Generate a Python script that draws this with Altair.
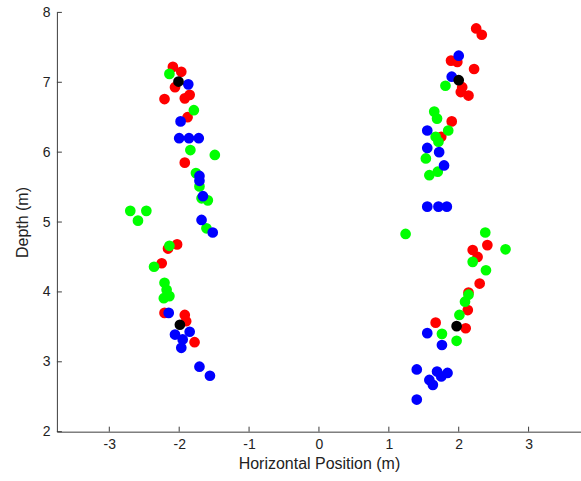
import altair as alt
import pandas as pd

# Sensor positions (horizontal offset, depth) grouped by marker colour
red_x = [-2.09, -1.97, -2.06, -1.85, -1.92, -2.21, -1.88, -1.92, -2.03, -2.16, -2.25,
         -2.21, -1.92, -1.90, -1.78,
         2.25, 2.33, 1.89, 1.98, 2.22, 2.05, 2.03, 2.14, 1.90, 1.75,
         2.41, 2.20, 2.27, 2.30, 2.14, 2.13, 2.10, 1.67]
red_y = [7.22, 7.15, 6.93, 6.82, 6.77, 6.76, 6.50, 5.85, 4.68, 4.62, 4.41,
         3.70, 3.67, 3.58, 3.28,
         7.77, 7.68, 7.31, 7.29, 7.19, 6.93, 6.86, 6.81, 6.44, 6.22,
         4.67, 4.60, 4.50, 4.12, 3.99, 3.74, 3.48, 3.56]

green_x = [-2.14, -1.79, -1.84, -1.49, -1.76, -1.71, -1.68, -1.59, -2.70, -2.47, -2.59,
           -1.61, -2.14, -2.36, -2.21, -2.18, -2.14, -2.22,
           1.81, 1.65, 1.69, 1.85, 1.67, 1.71, 1.53, 1.70, 1.58,
           1.24, 2.38, 2.67, 2.20, 2.39, 2.14, 2.09, 2.01, 1.76, 1.97]
green_y = [7.12, 6.60, 6.03, 5.96, 5.70, 5.51, 5.34, 5.31, 5.16, 5.16, 5.02,
           4.91, 4.66, 4.36, 4.13, 4.03, 3.94, 3.91,
           6.95, 6.58, 6.48, 6.31, 6.22, 6.15, 5.91, 5.72, 5.67,
           4.83, 4.85, 4.61, 4.43, 4.31, 3.96, 3.86, 3.67, 3.40, 3.30]

blue_x = [-1.87, -1.98, -2.00, -1.86, -1.72, -1.71, -1.71, -1.66, -1.68, -1.52,
          -2.15, -1.85, -2.06, -1.95, -1.97, -1.71, -1.56,
          2.00, 1.90, 1.55, 1.55, 1.72, 1.79, 1.55, 1.71, 1.83,
          1.55, 1.76, 1.40, 1.69, 1.84, 1.58, 1.63, 1.75, 1.40]
blue_y = [6.97, 6.44, 6.20, 6.20, 6.20, 5.66, 5.59, 5.37, 5.03, 4.85,
          3.70, 3.43, 3.39, 3.32, 3.20, 2.93, 2.80,
          7.38, 7.08, 6.31, 6.06, 6.00, 5.81, 5.22, 5.22, 5.22,
          3.41, 3.24, 2.89, 2.86, 2.84, 2.74, 2.67, 2.79, 2.46]

black_x = [-2.01, -1.99, 2.00, 1.97]
black_y = [7.01, 3.53, 7.03, 3.51]

x_ticks = [-3, -2, -1, 0, 1, 2, 3]
y_ticks = [2, 3, 4, 5, 6, 7, 8]

W, H = 525, 420
FONT = "Liberation Sans"
AXIS_COLOR = "#3c3c3c"
TEXT_COLOR = "#222222"

groups = [("red", red_x, red_y, "#ff0000"),
          ("green", green_x, green_y, "#00ff00"),
          ("blue", blue_x, blue_y, "#0000ff"),
          ("black", black_x, black_y, "#000000")]

xs = alt.Scale(domain=[-3.75, 3.75], nice=False, zero=False)
ys = alt.Scale(domain=[2, 8], nice=False, zero=False)

# plain ASCII hyphen for negative tick labels
label_expr = "'' + datum.value"

common = dict(grid=False, tickSize=0, domainColor=AXIS_COLOR,
              labelColor=TEXT_COLOR, titleColor=TEXT_COLOR, labelFont=FONT,
              titleFont=FONT, labelFontSize=14, titleFontSize=16,
              titleFontWeight="normal", labelFlush=False, labelExpr=label_expr)
x_axis = alt.Axis(values=x_ticks, title="Horizontal Position (m)",
                  labelPadding=6, titlePadding=4, **common)
y_axis = alt.Axis(values=y_ticks, title="Depth (m)",
                  labelPadding=7, titlePadding=12, **common)

layers = []
for name, gx, gy, col in groups:
    df = pd.DataFrame({"x": gx, "y": gy})
    layers.append(
        alt.Chart(df).mark_circle(size=115, opacity=1, color=col).encode(
            x=alt.X("x:Q", scale=xs, axis=x_axis),
            y=alt.Y("y:Q", scale=ys, axis=y_axis),
        )
    )

# Inward-pointing tick marks along both axes
xt = pd.DataFrame({"x": x_ticks})
yt = pd.DataFrame({"y": y_ticks})
x_tick_rules = alt.Chart(xt).mark_rule(color=AXIS_COLOR, strokeWidth=1).encode(
    x=alt.X("x:Q", scale=xs, axis=x_axis),
    y=alt.value(H), y2=alt.value(H - 5))
y_tick_rules = alt.Chart(yt).mark_rule(color=AXIS_COLOR, strokeWidth=1).encode(
    y=alt.Y("y:Q", scale=ys, axis=y_axis),
    x=alt.value(0), x2=alt.value(5))

chart = alt.layer(*layers, x_tick_rules, y_tick_rules).properties(
    width=W, height=H,
    autosize=alt.AutoSizeParams(type="none"),
    padding={"left": 57, "top": 12, "right": 0, "bottom": 49},
    background="white",
).configure_view(stroke=None)

chart.save("out.html", embed_options={"renderer": "svg", "actions": False})
